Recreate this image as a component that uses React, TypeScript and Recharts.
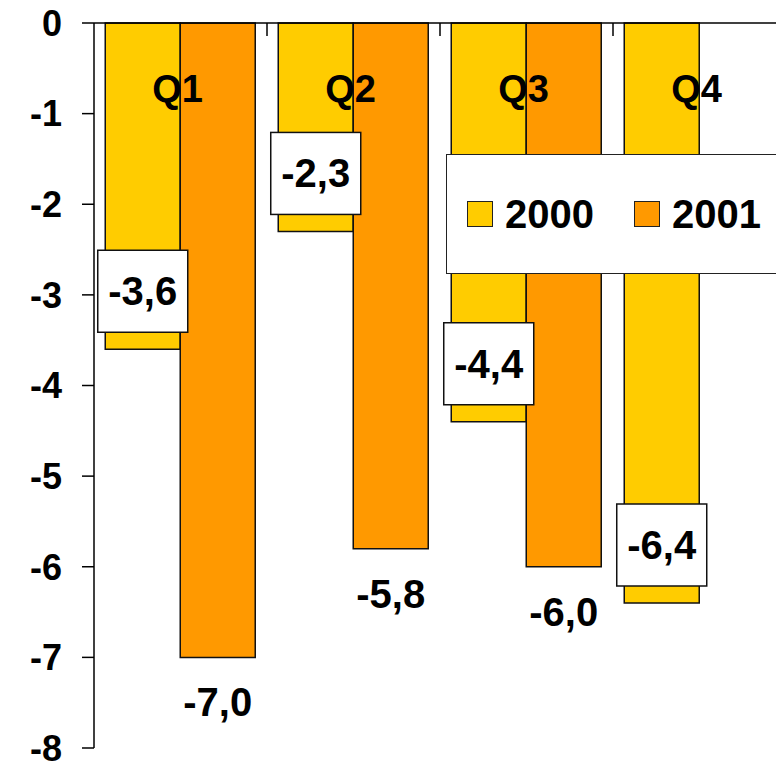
import { BarChart, Bar, XAxis, YAxis, LabelList } from 'recharts';

const quarters = ['Q1', 'Q2', 'Q3', 'Q4'];
const values2000 = [-3.6, -2.3, -4.4, -6.4];
const values2001: (number | null)[] = [-7.0, -5.8, -6.0, null];
const yTicks = [0, -1, -2, -3, -4, -5, -6, -7, -8];
const seriesNames = ['2000', '2001'];
const seriesColors = ['#FFCC00', '#FF9900'];

const data = quarters.map((q, i) => ({ name: q, y2000: values2000[i], y2001: values2001[i] }));

const FONT = '"Liberation Sans", Arial, sans-serif';

const fmt = (v: number) => v.toFixed(1).replace('.', ',');

// category label sits inside the plot, with a short tick at the category boundary
const QuarterTick = (props: any) => {
    const { x, y, payload, index } = props;
    const bx = x + (payload.offset || 0);
    return (
        <g>
            <text x={x - 3} y={y + 79} textAnchor="middle" fontSize={38} fontWeight="bold" fontFamily={FONT} fill="#000">
                {payload.value}
            </text>
            {index < quarters.length && <line x1={bx} y1={y} x2={bx} y2={y + 13} stroke="#000" strokeWidth={1.5} />}
        </g>
    );
};

const BoxLabel = (props: any) => {
    const { x, y, width, height, value } = props;
    if (value == null) return null;
    const cx = x + width / 2;
    const end = Math.max(y, y + height);
    return (
        <g>
            <rect x={cx - 45} y={end - 99} width={90} height={82} fill="#fff" stroke="#111" strokeWidth={1.5} />
            <text x={cx} y={end - 58} textAnchor="middle" dominantBaseline="central" fontSize={40} fontWeight="bold" fontFamily={FONT} fill="#000">
                {fmt(value)}
            </text>
        </g>
    );
};

const BelowLabel = (props: any) => {
    const { x, y, width, height, value } = props;
    if (value == null) return null;
    const cx = x + width / 2;
    const end = Math.max(y, y + height);
    return (
        <text x={cx} y={end + 45} textAnchor="middle" dominantBaseline="central" fontSize={40} fontWeight="bold" fontFamily={FONT} fill="#000">
            {fmt(value)}
        </text>
    );
};

const LegendBox = () => (
    <div style={{ position: 'absolute', left: 446, top: 154, width: 340, height: 120, background: '#fff', border: '1.5px solid #222', boxSizing: 'border-box', display: 'flex', alignItems: 'center', paddingLeft: 20, fontFamily: FONT }}>
        {seriesNames.map((n, i) => (
            <div key={n} style={{ display: 'flex', alignItems: 'center', marginRight: 40 }}>
                <span style={{ width: 26, height: 26, background: seriesColors[i], border: '1.5px solid #222', boxSizing: 'border-box', display: 'inline-block', marginRight: 12 }} />
                <span style={{ fontSize: 40, fontWeight: 'bold', color: '#000', lineHeight: '40px' }}>{n}</span>
            </div>
        ))}
    </div>
);

export default function App() {
    return (
        <div style={{ position: 'absolute', left: 0, top: 0, width: 776, height: 766, overflow: 'hidden', background: '#fff' }}>
            <BarChart width={800} height={766} data={data} margin={{ top: 0, right: 14, left: 0, bottom: 18 }} barCategoryGap="6.5%" barGap={0}>
                <XAxis dataKey="name" orientation="top" height={23} tickSize={0} tickMargin={0} tick={<QuarterTick />} axisLine={{ stroke: '#000', strokeWidth: 1.5 }} interval={0} />
                <YAxis
                    type="number"
                    domain={[-8, 0]}
                    ticks={yTicks}
                    interval={0}
                    width={94}
                    tickSize={12}
                    tickMargin={20}
                    axisLine={{ stroke: '#000', strokeWidth: 1.5 }}
                    tickLine={{ stroke: '#000', strokeWidth: 1.5 }}
                    tick={{ fontSize: 36, fontWeight: 'bold', fontFamily: FONT, fill: '#000' }}
                />
                <Bar dataKey="y2000" name={seriesNames[0]} fill={seriesColors[0]} stroke="#111" strokeWidth={1.5} isAnimationActive={false}>
                    <LabelList dataKey="y2000" content={<BoxLabel />} />
                </Bar>
                <Bar dataKey="y2001" name={seriesNames[1]} fill={seriesColors[1]} stroke="#111" strokeWidth={1.5} isAnimationActive={false}>
                    <LabelList dataKey="y2001" content={<BelowLabel />} />
                </Bar>
            </BarChart>
            <LegendBox />
        </div>
    );
}
